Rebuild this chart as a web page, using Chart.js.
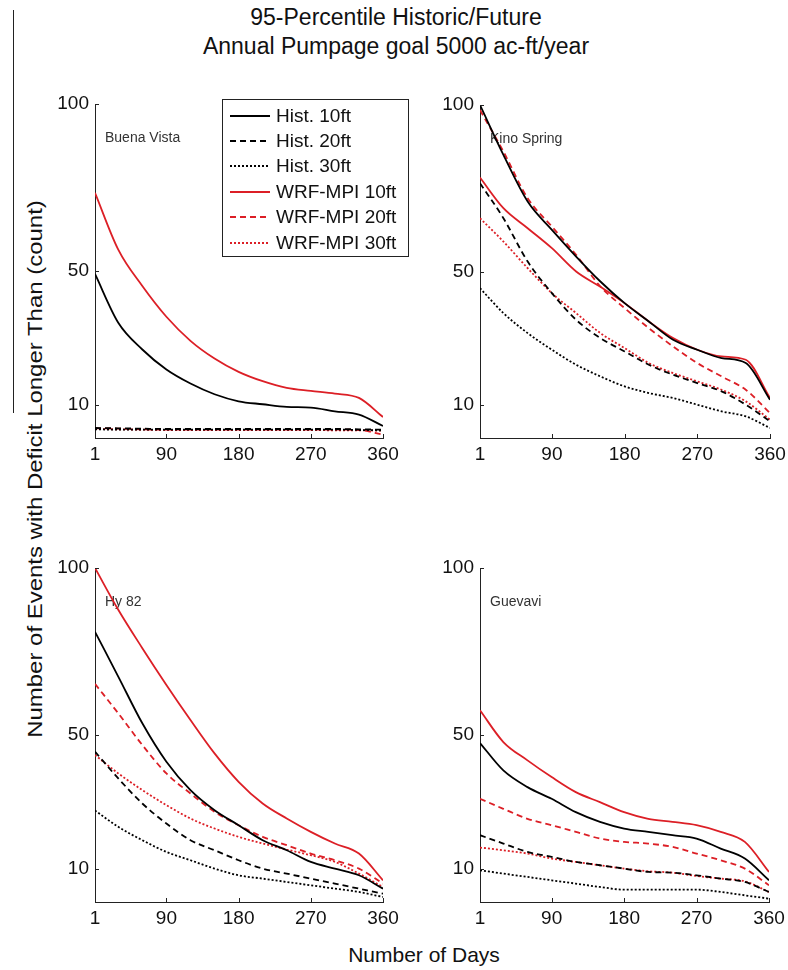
<!DOCTYPE html>
<html>
<head>
<meta charset="utf-8">
<script src="https://cdn.jsdelivr.net/npm/chart.js@4.4.1/dist/chart.umd.min.js"></script>
<style>
  body { margin: 0; background: #fff; width: 788px; height: 970px; position: relative; overflow: hidden;
         font-family: 'Liberation Sans', Arial, sans-serif; color: #111; }
  canvas.panel { position: absolute; }
  .title { position: absolute; left: 0; top: 3px; width: 792px; text-align: center; font-size: 23px; line-height: 29px; }
  .ytitle { position: absolute; white-space: nowrap; font-size: 20px; line-height: 20px; }
  .xtitle { position: absolute; left: 0; width: 848px; top: 944px; text-align: center; font-size: 21px; line-height: 21px; }
  .edge { position: absolute; left: 13px; top: 10px; width: 1px; height: 403px; background: #222; }
  #legend { position: absolute; left: 222px; top: 99px; width: 187px; height: 158px; box-sizing: border-box;
            border: 1px solid #222; background: #fff; padding-top: 3px; z-index: 5; }
  #legend .row { height: 25.4px; display: flex; align-items: center; font-size: 19px; }
  #legend canvas { margin-left: 7px; margin-right: 6px; }
</style>
</head>
<body>
<div class="edge"></div>
<div class="title">95-Percentile Historic/Future<br>Annual Pumpage goal 5000 ac-ft/year</div>
<div class="ytitle" id="ytitle">Number of Events with Deficit Longer Than (count)</div>
<div class="xtitle">Number of Days</div>
<div id="legend"></div>

<script>
// day thresholds (x) shared by every panel
const days = [1, 30, 60, 90, 120, 150, 180, 210, 240, 270, 300, 330, 360];
const xTicks = [1, 90, 180, 270, 360];
const yTicks = [10, 50, 100];

const seriesNames = ['Hist. 10ft', 'Hist. 20ft', 'Hist. 30ft', 'WRF-MPI 10ft', 'WRF-MPI 20ft', 'WRF-MPI 30ft'];
const seriesColors = ['#000', '#000', '#000', '#dc1f26', '#dc1f26', '#dc1f26'];
const seriesDashes = [[], [6, 4], [2, 2], [], [6, 4], [2, 2]];

// one row per series, in the order of seriesNames
const buenaVista = [
  [49.1, 34.5, 26.5, 20.5, 16.3, 13.1, 11.0, 10.1, 9.3, 9.1, 8.0, 7.0, 3.6],
  [3.0, 2.9, 2.8, 2.7, 2.7, 2.7, 2.7, 2.7, 2.7, 2.7, 2.7, 2.6, 2.5],
  [2.6, 2.5, 2.5, 2.5, 2.5, 2.5, 2.5, 2.5, 2.5, 2.5, 2.5, 2.4, 2.3],
  [73.4, 56.4, 45.5, 36.3, 29.1, 23.8, 19.8, 17.0, 15.0, 14.1, 13.3, 12.0, 6.3],
  [2.9, 2.8, 2.6, 2.5, 2.5, 2.5, 2.5, 2.5, 2.5, 2.5, 2.5, 2.4, 1.0],
  [2.7, 2.6, 2.5, 2.4, 2.4, 2.4, 2.4, 2.4, 2.4, 2.4, 2.3, 2.3, 2.2]
];
const kinoSpring = [
  [100, 85, 71, 62.5, 54.5, 47, 40.5, 35, 29.5, 26.5, 24, 22.5, 11.5],
  [76.5, 66, 53, 43.5, 35.5, 30, 26, 22, 19, 16.5, 14, 10, 5],
  [45, 37.5, 31.5, 26.5, 22, 18.5, 15.5, 13.5, 12, 10, 8, 6.5, 3],
  [78.2, 69, 63, 57, 50, 45.4, 40.5, 35, 30, 26.5, 24.5, 23.5, 12],
  [98.5, 86, 72, 63.5, 55, 45.5, 39, 33, 27.5, 22.5, 18.5, 14.5, 7.5],
  [66, 59, 51, 43.5, 37.5, 31.5, 27, 22.5, 19.5, 17, 14.5, 11, 5.5]
];
const hy82 = [
  [80.9, 67.5, 53.5, 42, 33.5, 27.5, 23, 18.5, 15.5, 12, 10, 8, 4],
  [45, 37, 29.5, 23.5, 18.5, 15.5, 12.5, 10, 8.5, 7, 5.5, 4, 2.5],
  [27.4, 22.5, 18.5, 15, 12.5, 10, 8, 7, 6, 5, 4, 3, 1.5],
  [100, 87.5, 76, 65, 54.5, 44.5, 36, 29.5, 25, 21, 17.5, 14.5, 6.5],
  [65.3, 56.5, 47, 38.5, 32.5, 27, 23, 19.5, 17, 14.5, 12.5, 10, 5.5],
  [44, 38.5, 33.5, 29, 25, 22, 19.5, 17.5, 15.7, 14, 12, 8.5, 4.5]
];
const guevavi = [
  [47.6, 39.4, 34.4, 30.9, 26.9, 24, 22, 21, 20, 19, 16, 13, 6.5],
  [20, 17.5, 15, 13.5, 12, 11, 10, 9, 8.8, 8, 7, 6, 3],
  [9.5, 8.5, 7.5, 6.5, 5.5, 4.5, 3.7, 3.7, 3.7, 3.7, 3, 2, 1],
  [57.4, 47.9, 42.4, 37.4, 32.9, 29.9, 26.9, 24.9, 24, 23, 21, 18, 9],
  [30.9, 27.9, 24.9, 23, 21, 19, 18, 17.5, 16.5, 14.5, 12.5, 10, 5],
  [16.3, 15.5, 14.5, 13, 12, 11, 10, 9.2, 8.8, 7.8, 7, 6.2, 3]
];

const FONT = "'Liberation Sans', Arial, sans-serif";

// inward tick marks + site name inside each panel
const panelDecor = {
  id: 'panelDecor',
  beforeDatasetsDraw(chart, args, opts) {
    const { ctx, chartArea } = chart;
    ctx.save();
    ctx.fillStyle = '#333';
    ctx.font = '14px ' + FONT;
    ctx.fillText(opts.site, chartArea.left + 10, chartArea.top + 38);
    ctx.restore();
  },
  afterDraw(chart) {
    const { ctx, chartArea, scales } = chart;
    ctx.save();
    ctx.strokeStyle = '#222';
    ctx.lineWidth = 1;
    ctx.beginPath();
    scales.x.ticks.forEach(t => {
      const px = Math.round(scales.x.getPixelForValue(t.value)) + 0.5;
      ctx.moveTo(px, chartArea.bottom);
      ctx.lineTo(px, chartArea.bottom - 4);
    });
    scales.y.ticks.forEach(t => {
      const py = Math.round(scales.y.getPixelForValue(t.value)) + 0.5;
      ctx.moveTo(chartArea.left, py);
      ctx.lineTo(chartArea.left + 4, py);
    });
    ctx.stroke();
    ctx.restore();
  }
};

function makePanel(site, rows, box) {
  const padL = 60, padT = 20, padR = 30, padB = 45;
  const canvas = document.createElement('canvas');
  canvas.className = 'panel';
  canvas.width = box.right - box.left + padL + padR;
  canvas.height = box.bottom - box.top + padT + padB;
  canvas.style.left = (box.left - padL) + 'px';
  canvas.style.top = (box.top - padT) + 'px';
  document.body.appendChild(canvas);

  const datasets = rows.map((vals, i) => ({
    label: seriesNames[i],
    data: days.map((d, k) => ({ x: d, y: vals[k] })),
    borderColor: seriesColors[i],
    borderDash: seriesDashes[i],
    borderWidth: 1.8,
    pointRadius: 0,
    cubicInterpolationMode: 'monotone',
    fill: false
  }));

  return new Chart(canvas, {
    type: 'line',
    data: { datasets },
    plugins: [panelDecor],
    options: {
      responsive: false,
      animation: false,
      layout: { padding: { left: 0, top: padT, right: padR, bottom: 0 } },
      plugins: {
        legend: { display: false },
        tooltip: { enabled: false },
        panelDecor: { site: site }
      },
      scales: {
        x: {
          type: 'linear', min: 1, max: 360,
          afterBuildTicks: s => { s.ticks = xTicks.map(v => ({ value: v })); },
          afterFit: s => { s.height = padB; },
          grid: { display: false, drawTicks: false },
          border: { display: true, color: '#222', width: 1 },
          ticks: { color: '#111', font: { family: FONT, size: 19 }, padding: 5, maxRotation: 0, autoSkip: false }
        },
        y: {
          type: 'linear', min: 0, max: 100,
          afterBuildTicks: s => { s.ticks = yTicks.map(v => ({ value: v })); },
          afterFit: s => { s.width = padL; },
          grid: { display: false, drawTicks: false },
          border: { display: true, color: '#222', width: 1 },
          ticks: { color: '#111', font: { family: FONT, size: 19 }, padding: 6 }
        }
      }
    }
  });
}

makePanel('Buena Vista', buenaVista, { left: 95, top: 104, right: 383, bottom: 438 });
makePanel('Kino Spring', kinoSpring, { left: 480, top: 105, right: 770, bottom: 438 });
makePanel('Hy 82', hy82, { left: 95, top: 568, right: 383, bottom: 902 });
makePanel('Guevavi', guevavi, { left: 480, top: 568, right: 769, bottom: 902 });

// legend built from the series arrays
const legend = document.getElementById('legend');
seriesNames.forEach((name, i) => {
  const row = document.createElement('div');
  row.className = 'row';
  const c = document.createElement('canvas');
  c.width = 40; c.height = 6;
  const g = c.getContext('2d');
  g.strokeStyle = seriesColors[i];
  g.lineWidth = 2;
  g.setLineDash(seriesDashes[i]);
  g.beginPath(); g.moveTo(0, 3); g.lineTo(40, 3); g.stroke();
  const span = document.createElement('span');
  span.textContent = name;
  row.appendChild(c);
  row.appendChild(span);
  legend.appendChild(row);
});

// y title: stretched along its length to match the original proportions
const yt = document.getElementById('ytitle');
const w = yt.offsetWidth;
const targetLen = 538;
yt.style.left = (35 - w / 2) + 'px';
yt.style.top = (469 - 10) + 'px';
yt.style.transform = 'rotate(-90deg) scaleX(' + (targetLen / w) + ')';
</script>
</body>
</html>
